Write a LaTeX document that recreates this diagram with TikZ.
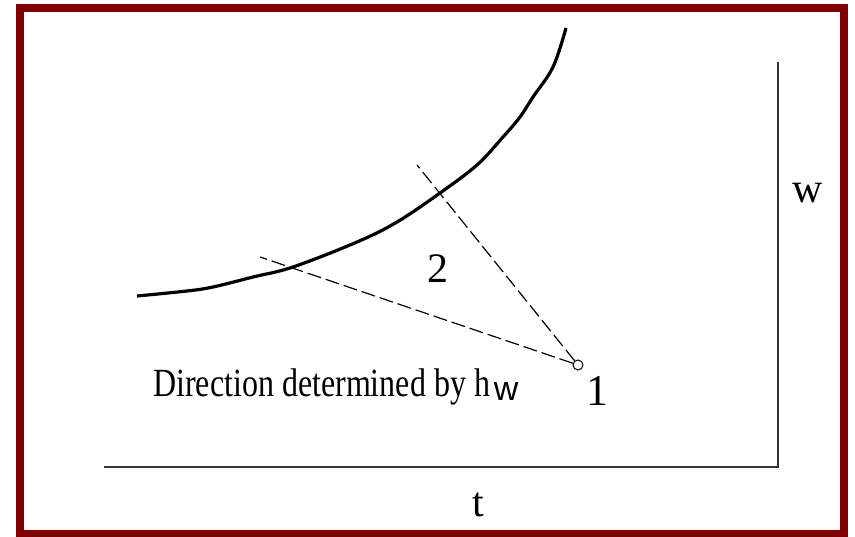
\documentclass[tikz,border=0pt]{standalone}
\usepackage{fontspec}
\setmainfont{Liberation Serif}
\newfontfamily\subsans{Liberation Sans}
\usepackage{tikz}
\usetikzlibrary{positioning, calc}

\definecolor{frame}{HTML}{800000}
\definecolor{axisgray}{HTML}{333333}

\tikzset{
  lbl/.style={inner sep=0pt, anchor=base, font=\fontsize{42}{46}\selectfont},
  dashline/.style={line width=1.2pt, dash pattern=on 14pt off 5pt},
  axisline/.style={draw=axisgray, line width=1.8pt}
}

\begin{document}
\begin{tikzpicture}[x=1pt, y=-1pt]
  \useasboundingbox (0,0) rectangle (855,537);
  \fill[white] (0,0) rectangle (855,537);

  % outer frame
  \draw[frame, line width=8pt] (20,8) rectangle (844,534);

  % axes
  \coordinate (ytop) at (778,62);
  \coordinate (orig) at (778,467);
  \coordinate (xleft) at (104,467);
  \draw[axisline] (ytop) -- (orig) -- (xleft);
  \node (tlab) [lbl] at (478,517) {t};
  \node (wlab) [lbl] at (808,203) {w};

  % curve
  \draw[line width=3.2pt] plot[smooth, tension=0.6] coordinates {
    (137,296) (187,291) (213,287) (253,277) (293,267) (357,242)
    (397,222) (440,193) (477,165) (503,137) (520,117) (533,97)
    (553,67) (566,28)};

  % point 1 and the two directions
  \node (pone) [draw, circle, line width=1pt, minimum size=10pt, inner sep=0pt] at (578,365) {};
  \coordinate (enda) at (260,257);
  \coordinate (endb) at (417,165);
  \draw[dashline] (pone) -- (enda);
  \draw[dashline] (pone) -- (endb);

  % labels
  \node (onelab) [lbl, font=\fontsize{44}{48}\selectfont] at (597,406) {1};
  \node (twolab) [lbl] at (438,283) {2};
  \node (dirlab) [inner sep=0pt, anchor=base west] at (153,397)
    {\scalebox{0.8}[1]{\fontsize{40}{44}\selectfont Direction determined by h}\hspace{4pt}%
     \raisebox{-4pt}{\subsans\fontsize{34}{36}\selectfont w}};
\end{tikzpicture}
\end{document}
